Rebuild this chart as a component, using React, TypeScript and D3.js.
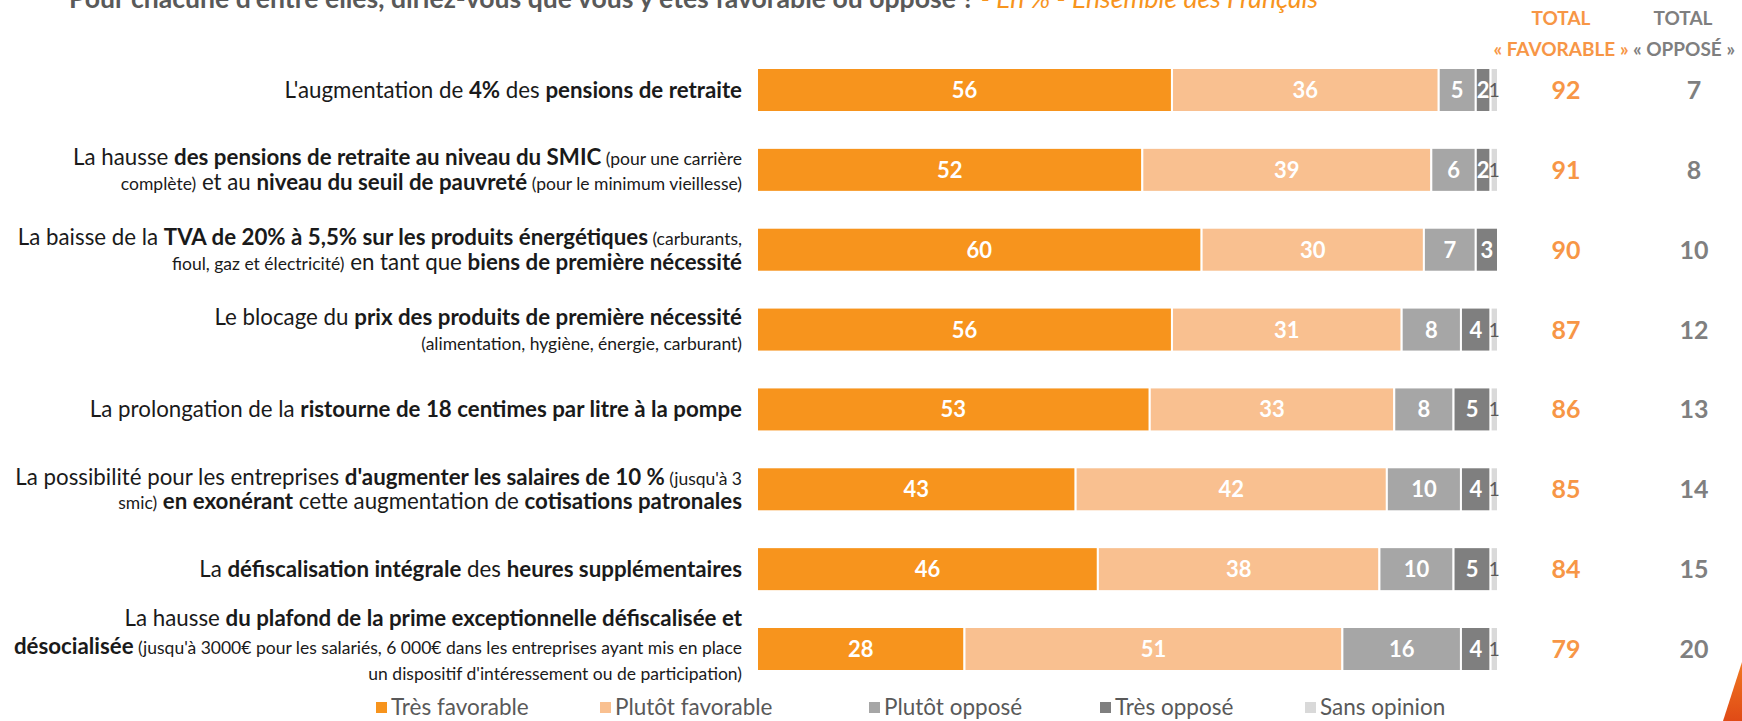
import React from "react";
import * as d3 from "d3";

const series = ["Très favorable", "Plutôt favorable", "Plutôt opposé", "Très opposé", "Sans opinion"];
const colors = ["#F7941D", "#F9C090", "#A6A6A6", "#7F7F7F", "#D9D9D9"];

const trèsFavorable = [56, 52, 60, 56, 53, 43, 46, 28];
const plutôtFavorable = [36, 39, 30, 31, 33, 42, 38, 51];
const plutôtOpposé = [5, 6, 7, 8, 8, 10, 10, 16];
const trèsOpposé = [2, 2, 3, 4, 5, 4, 5, 4];
const sansOpinion = [1, 1, 0, 1, 1, 1, 1, 1];
const totalFavorable = [92, 91, 90, 87, 86, 85, 84, 79];
const totalOpposé = [7, 8, 10, 12, 13, 14, 15, 20];

type Seg = [string, "n" | "b" | "s"];
const labels: Seg[][][] = [
  [[["L'augmentation de ", "n"], ["4%", "b"], [" des ", "n"], ["pensions de retraite", "b"]]],
  [
    [["La hausse ", "n"], ["des pensions de retraite au niveau du SMIC", "b"], [" (pour une carrière", "s"]],
    [["complète)", "s"], [" et au ", "n"], ["niveau du seuil de pauvreté", "b"], [" (pour le minimum vieillesse)", "s"]],
  ],
  [
    [["La baisse de la ", "n"], ["TVA de 20% à 5,5% sur les produits énergétiques", "b"], [" (carburants,", "s"]],
    [["fioul, gaz et électricité)", "s"], [" en tant que ", "n"], ["biens de première nécessité", "b"]],
  ],
  [
    [["Le blocage du ", "n"], ["prix des produits de première nécessité", "b"]],
    [["(alimentation, hygiène, énergie, carburant)", "s"]],
  ],
  [[["La prolongation de la ", "n"], ["ristourne de 18 centimes par litre à la pompe", "b"]]],
  [
    [["La possibilité pour les entreprises ", "n"], ["d'augmenter les salaires de 10 %", "b"], [" (jusqu'à 3", "s"]],
    [["smic)", "s"], [" ", "n"], ["en exonérant", "b"], [" cette augmentation de ", "n"], ["cotisations patronales", "b"]],
  ],
  [[["La ", "n"], ["défiscalisation intégrale", "b"], [" des ", "n"], ["heures supplémentaires", "b"]]],
  [
    [["La hausse ", "n"], ["du plafond de la prime exceptionnelle défiscalisée et", "b"]],
    [["désocialisée", "b"], [" (jusqu'à 3000€ pour les salariés, 6 000€ dans les entreprises ayant mis en place", "s"]],
    [["un dispositif d'intéressement ou de participation)", "s"]],
  ],
];

const lineOffsets: Record<number, number[]> = {
  1: [0],
  2: [-12, 12.5],
  3: [-31, -3, 23],
};

const FONT = "Lato, 'Open Sans', 'Noto Sans', sans-serif";

export default function App() {
  const W = 1742, H = 721;
  const n = trèsFavorable.length;
  const idx = d3.range(n);
  const y = d3.scalePoint<number>().domain(idx).range([90, 649]);
  const x = d3.scaleLinear().domain([0, 100]).range([757, 1498]);
  const barH = 44;
  const rows = idx.map((i) => [trèsFavorable[i], plutôtFavorable[i], plutôtOpposé[i], trèsOpposé[i], sansOpinion[i]]);
  const stack = rows.map((r) => {
    let acc = 0;
    return r.map((v) => {
      const s = acc;
      acc += v;
      return [s, acc, v];
    });
  });
  const legendX = [376, 600, 869, 1100, 1305];

  return (
    <svg width={W} height={H} style={{ position: "absolute", left: 0, top: 0, background: "#fff" }} fontFamily={FONT}>
      <rect width={W} height={H} fill="#fff" />
      <text x={69} y={8} fontSize={26.6} fontWeight="bold" fill="#595959">
        Pour chacune d'entre elles, diriez-vous que vous y êtes favorable ou opposé ?
        <tspan fill="#F7941D" fontWeight="normal" fontStyle="italic"> - En % - Ensemble des Français</tspan>
      </text>

      <text x={1561} y={25} textAnchor="middle" fontSize={19} fontWeight="bold" fill="#F79646">TOTAL</text>
      <text x={1561} y={56} textAnchor="middle" fontSize={19} fontWeight="bold" fill="#F79646">« FAVORABLE »</text>
      <text x={1683} y={25} textAnchor="middle" fontSize={19} fontWeight="bold" fill="#7F7F7F">TOTAL</text>
      <text x={1684} y={56} textAnchor="middle" fontSize={19} fontWeight="bold" fill="#7F7F7F">« OPPOSÉ »</text>

      {idx.map((i) => {
        const cy = y(i)!;
        const lines = labels[i];
        const offs = lineOffsets[lines.length];
        return (
          <g key={i}>
            {lines.map((line, li) => (
              <text key={li} x={742} y={cy + offs[li] + 7.5} textAnchor="end" fill="#1a1a1a" fontSize={22.3}>
                {line.map(([t, s], k) => (
                  <tspan key={k} fontWeight={s === "b" ? "bold" : "normal"} fontSize={s === "s" ? 17.5 : 22.3}>{t}</tspan>
                ))}
              </text>
            ))}
            {stack[i].map(([s, e, v], k) =>
              v > 0 ? (
                <rect key={k} x={x(s)} y={cy - barH / 2} width={x(e) - x(s)} height={barH} fill={colors[k]} stroke="#fff" strokeWidth={2} />
              ) : null
            )}
            {stack[i].map(([s, e, v], k) =>
              v > 0 ? (
                k < 4 ? (
                  <text key={"t" + k} x={(x(s) + x(e)) / 2} y={cy + 8} textAnchor="middle" fontSize={22} fontWeight="bold" fill="#fff">{v}</text>
                ) : (
                  <text key={"t" + k} x={(x(s) + x(e)) / 2} y={cy + 7} textAnchor="middle" fontSize={19} fill="#595959">{v}</text>
                )
              ) : null
            )}
            <text x={1566} y={cy + 9} textAnchor="middle" fontSize={25} fontWeight="bold" fill="#F79646">{totalFavorable[i]}</text>
            <text x={1694} y={cy + 9} textAnchor="middle" fontSize={25} fontWeight="bold" fill="#7F7F7F">{totalOpposé[i]}</text>
          </g>
        );
      })}

      {series.map((s, k) => (
        <g key={s}>
          <rect x={legendX[k]} y={702} width={11} height={11} fill={colors[k]} />
          <text x={legendX[k] + 15} y={715} fontSize={22.5} fill="#595959">{s}</text>
        </g>
      ))}

      <defs>
        <linearGradient id="tri" x1="0" y1="0" x2="0" y2="1">
          <stop offset="0" stopColor="#F07820" />
          <stop offset="1" stopColor="#E04A16" />
        </linearGradient>
      </defs>
      <path d="M1723,721 L1742,662 L1742,721 Z" fill="url(#tri)" />
    </svg>
  );
}
